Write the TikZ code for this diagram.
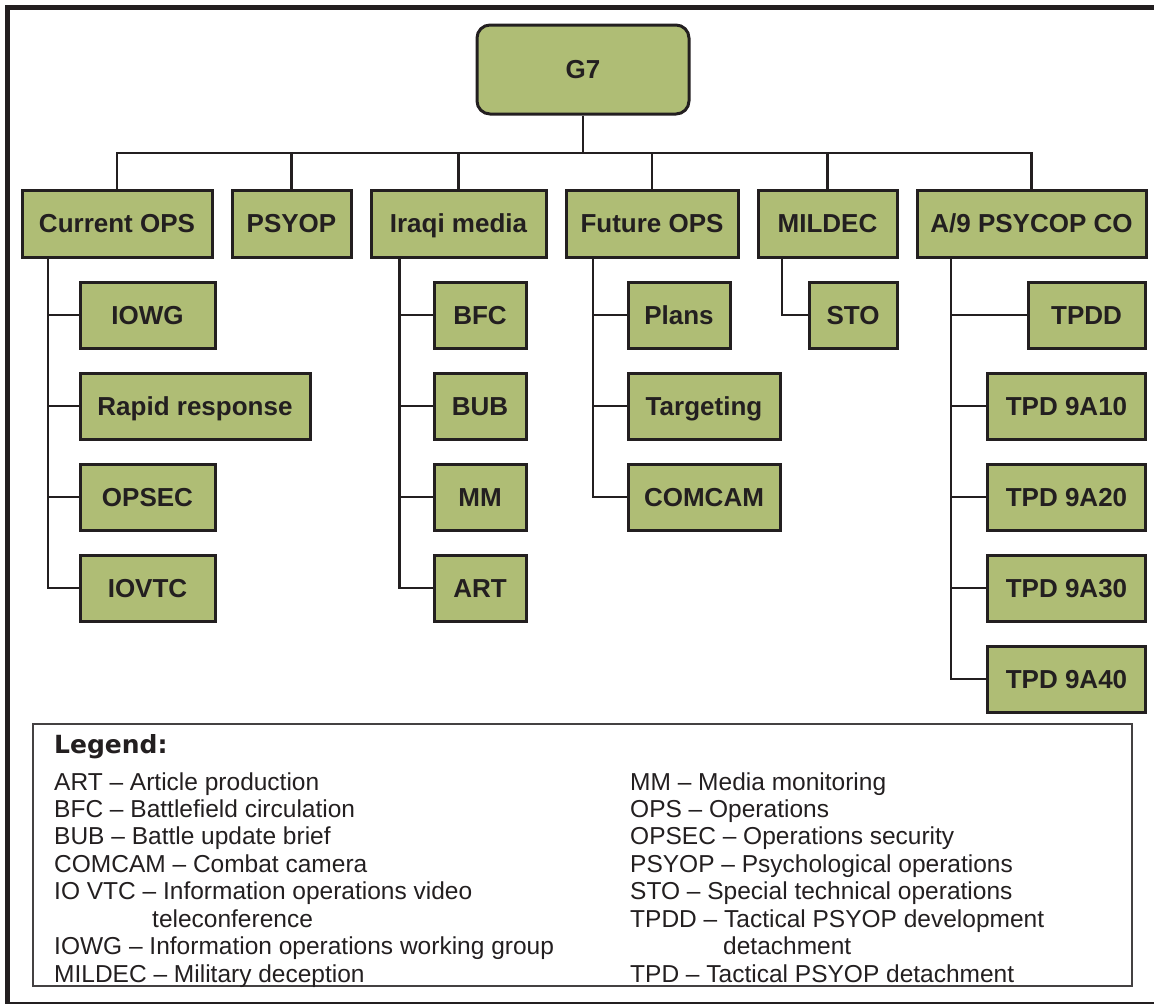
\documentclass[tikz,border=0pt]{standalone}
\usepackage{fontspec}
\setmainfont{Liberation Sans}
\newfontfamily\legfont{DejaVu Sans}
\usepackage{tikz}

\definecolor{boxgreen}{RGB}{175,189,117}
\definecolor{ink}{RGB}{35,31,32}

\begin{document}
\begin{tikzpicture}[x=1pt,y=-1pt,
  unit/.style={draw=ink,line width=3pt,fill=boxgreen,text=ink,inner sep=0pt,
    font=\fontsize{26}{30}\selectfont\bfseries,text height=18.7pt,text depth=0pt,
    minimum height=67pt},
  sub/.style={unit,minimum height=66pt},
  link/.style={draw=ink,line width=2.5pt},
  legtext/.style={inner sep=0pt,anchor=base west,text=ink,
    font=\fontsize{24.5}{27}\selectfont}]
\useasboundingbox (0,0) rectangle (1154,1004);

% outer frame
\draw[ink,line width=5pt] (7,1010) -- (7,7) -- (1170,7);
\draw[ink,line width=2pt] (7,1003) -- (1170,1003);

\draw (583,69.5) node (g7) [unit,rounded corners=13pt,minimum width=212pt,minimum height=89pt] {G7};

\draw (117,223.5)    node (curops) [unit,minimum width=190pt] {Current OPS};
\draw (291.5,223.5)  node (psyop)  [unit,minimum width=119pt] {PSYOP};
\draw (458.5,223.5)  node (iraqi)  [unit,minimum width=175pt] {Iraqi media};
\draw (652,223.5)    node (future) [unit,minimum width=172pt] {Future OPS};
\draw (827.5,223.5)  node (mildec) [unit,minimum width=139pt] {MILDEC};
\draw (1031.5,223.5) node (aco)    [unit,minimum width=229pt] {A/9 PSYCOP CO};

\coordinate (bus) at (583,153);
\draw[link] (g7) -- (bus);
\draw[link] (curops.north) |- (bus) -| (aco.north);
\foreach \n in {psyop,iraqi,future,mildec}
  \draw[link] (\n.north) -- (\n.north |- bus);

% Current OPS
\draw (147.5,315) node (iowg)  [sub,minimum width=135pt] {IOWG};
\draw (195,406)   node (rapid) [sub,minimum width=230pt] {Rapid response};
\draw (147.5,497) node (opsec) [sub,minimum width=135pt] {OPSEC};
\draw (147.5,588) node (iovtc) [sub,minimum width=135pt] {IOVTC};
\coordinate (curtrunk) at (48,257);
\draw[link] (curtrunk) |- (iovtc.west);
\foreach \n in {iowg,rapid,opsec}
  \draw[link] (curtrunk |- \n.west) -- (\n.west);

% Iraqi media
\draw (480,315) node (bfc) [sub,minimum width=92pt] {BFC};
\draw (480,406) node (bub) [sub,minimum width=92pt] {BUB};
\draw (480,497) node (mm)  [sub,minimum width=92pt] {MM};
\draw (480,588) node (art) [sub,minimum width=92pt] {ART};
\coordinate (iraqitrunk) at (399.5,257);
\draw[link] (iraqitrunk) |- (art.west);
\foreach \n in {bfc,bub,mm}
  \draw[link] (iraqitrunk |- \n.west) -- (\n.west);

% Future OPS
\draw (679,315) node (plans)  [sub,minimum width=102pt] {Plans};
\draw (704,406) node (target) [sub,minimum width=152pt] {Targeting};
\draw (704,497) node (comcam) [sub,minimum width=152pt] {COMCAM};
\coordinate (futtrunk) at (593,257);
\draw[link] (futtrunk) |- (comcam.west);
\foreach \n in {plans,target}
  \draw[link] (futtrunk |- \n.west) -- (\n.west);

% MILDEC
\draw (853,315) node (sto) [sub,minimum width=88pt] {STO};
\coordinate (miltrunk) at (782,257);
\draw[link] (miltrunk) |- (sto.west);

% A/9 PSYCOP CO
\draw (1086.5,315) node (tpdd)  [sub,minimum width=117pt] {TPDD};
\draw (1066.5,406) node (tpd10) [sub,minimum width=158pt] {TPD 9A10};
\draw (1066.5,497) node (tpd20) [sub,minimum width=158pt] {TPD 9A20};
\draw (1066.5,588) node (tpd30) [sub,minimum width=158pt] {TPD 9A30};
\draw (1066.5,679) node (tpd40) [sub,minimum width=158pt] {TPD 9A40};
\coordinate (acotrunk) at (951,257);
\draw[link] (acotrunk) |- (tpd40.west);
\foreach \n in {tpdd,tpd10,tpd20,tpd30}
  \draw[link] (acotrunk |- \n.west) -- (\n.west);

% legend
\draw[ink!85,line width=1.2pt] (33,724) rectangle (1132,986);
\node[legtext,font=\legfont\fontsize{25}{30}\selectfont\bfseries] (legtitle) at (54,753) {Legend:};
\foreach \t [count=\i from 0] in {ART -- Article production,
    BFC -- Battlefield circulation, BUB -- Battle update brief,
    COMCAM -- Combat camera, IO VTC -- Information operations video,
    {\hspace*{98pt}teleconference}, IOWG -- Information operations working group,
    MILDEC -- Military deception}
  \node[legtext] (legl\i) at (54,{790+27.43*\i}) {\t};
\foreach \t [count=\i from 0] in {MM -- Media monitoring, OPS -- Operations,
    OPSEC -- Operations security, PSYOP -- Psychological operations,
    STO -- Special technical operations, TPDD -- Tactical PSYOP development,
    {\hspace*{93pt}detachment}, TPD -- Tactical PSYOP detachment}
  \node[legtext] (legr\i) at (630,{790+27.43*\i}) {\t};

\end{tikzpicture}
\end{document}
